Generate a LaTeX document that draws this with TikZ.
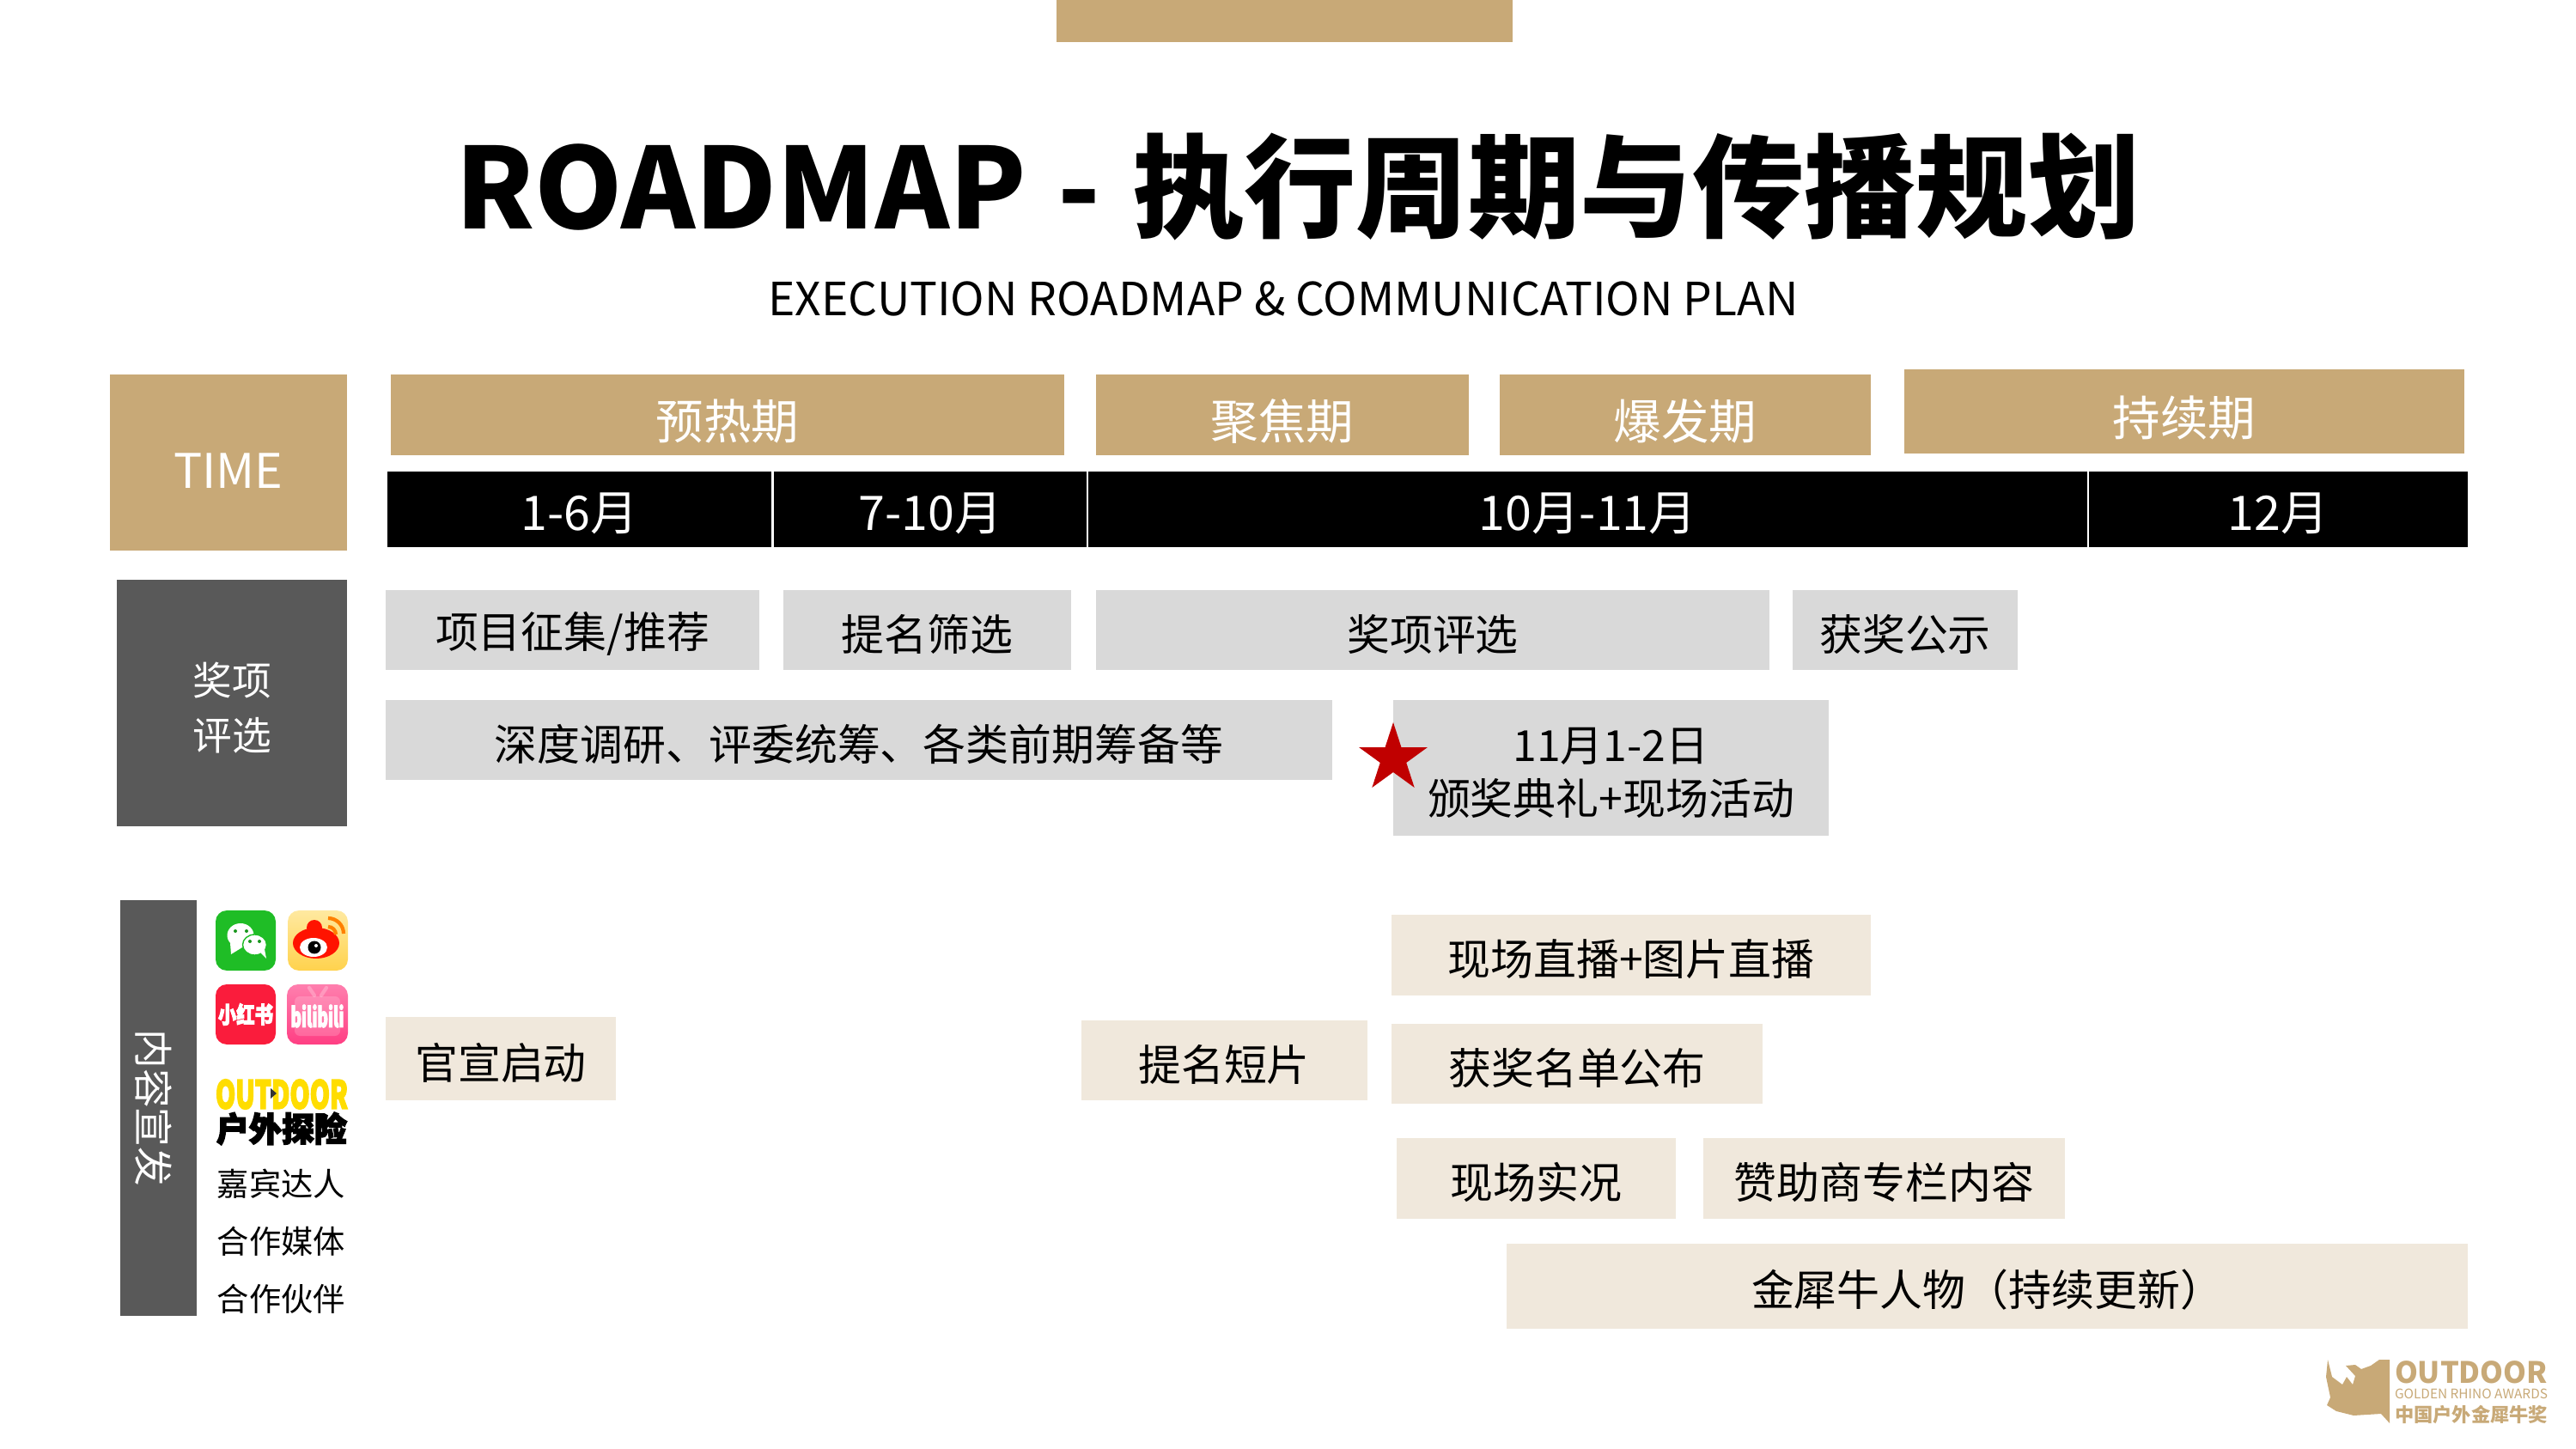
\documentclass[tikz,border=0pt]{standalone}
\usepackage{fontspec}
\setmainfont{Noto Sans CJK SC}
\newfontfamily\heavyfont[BoldFeatures={FakeBold=4}]{Noto Sans CJK SC}
\newcommand{\nudge}[1]{\raisebox{-1.6pt}[\height][\depth]{#1}}
\usetikzlibrary{shapes.geometric}
\definecolor{tan}{HTML}{C8A977}
\definecolor{slab}{HTML}{595959}
\definecolor{mist}{HTML}{D9D9D9}
\definecolor{sand}{HTML}{F0E8DC}
\definecolor{starred}{HTML}{C00000}
\definecolor{wechat}{HTML}{1FBD26}
\definecolor{redbook}{HTML}{FA1C3C}
\definecolor{weibotop}{HTML}{FFE9A0}
\definecolor{weibolow}{HTML}{FFD24D}
\definecolor{bilitop}{HTML}{FF7FAE}
\definecolor{bililow}{HTML}{FF3E83}
\definecolor{mag}{HTML}{FFDD00}
\tikzset{
  box/.style={inner sep=0pt,outer sep=0pt,align=center},
  drop/.style={execute at begin node={\rule{0pt}{#1}}},
  phase/.style={box,drop=17.4pt,fill=tan,text=white,font=\fontsize{15.8}{19}\selectfont},
  month/.style={box,drop=15.5pt,fill=black,text=white,minimum height=0.88cm,
    font=\fontsize{15.8}{19}\selectfont},
  side/.style={box,fill=slab,text=white,font=\fontsize{13}{18.2}\selectfont},
  award/.style={box,drop=14.6pt,fill=mist,minimum height=0.93cm,
    font=\fontsize{14.2}{17.6}\selectfont},
  promo/.style={box,drop=14.6pt,fill=sand,minimum height=0.94cm,
    font=\fontsize{14.2}{17}\selectfont},
  channel/.style={box,font=\fontsize{10.6}{13}\selectfont},
  logotext/.style={box,text=tan}
}
\begin{document}
\begin{tikzpicture}
  \useasboundingbox (0,0) rectangle (29.99,-16.87);

  % Title
  \fill[tan] (12.30,0) rectangle (17.61,-0.49);
  \node[box,font=\fontsize{37.1}{44}\bfseries\selectfont] (title) at (15.11,-2.17)
    {ROADMAP\hspace{0.07cm} - \hspace{0.07cm}执行周期与传播规划};
  \node[box,font=\fontsize{15.16}{19}\selectfont] (subtitle) at (14.94,-3.48)
    {EXECUTION ROADMAP \& COMMUNICATION PLAN};

  % Time header
  \node[phase,text depth=0.5pt,minimum width=2.76cm,minimum height=2.05cm] (time) at (2.66,-5.385) {TIME};
  \node[phase,minimum width=7.84cm,minimum height=0.94cm] (warmup) at (8.47,-4.83) {预热期};
  \node[phase,minimum width=4.34cm,minimum height=0.94cm] (focus) at (14.93,-4.83) {聚焦期};
  \node[phase,minimum width=4.32cm,minimum height=0.94cm] (burst) at (19.62,-4.83) {爆发期};
  \node[phase,minimum width=6.52cm,minimum height=0.98cm] (lasting) at (25.43,-4.79) {持续期};

  \node[month,minimum width=4.47cm] (janjun) at (6.745,-5.93) {1-6月};
  \node[month,minimum width=3.64cm] (julokt) at (10.83,-5.93) {7-10月};
  \node[month,minimum width=11.63cm] (oktnov) at (18.485,-5.93) {10月-11月};
  \node[month,minimum width=4.41cm] (dec) at (26.525,-5.93) {12月};

  % Award selection
  \node[side,minimum width=2.68cm,minimum height=2.87cm] (awards) at (2.70,-8.185)
    {\nudge{奖项}\\\nudge{评选}};
  \node[award,minimum width=4.35cm] (collect) at (6.665,-7.335) {项目征集/推荐};
  \node[award,minimum width=3.35cm] (screen) at (10.795,-7.335) {提名筛选};
  \node[award,minimum width=7.84cm] (judge) at (16.68,-7.335) {奖项评选};
  \node[award,minimum width=2.62cm] (notice) at (22.18,-7.335) {获奖公示};
  \node[award,minimum width=11.02cm] (prepare) at (10.00,-8.615) {深度调研、评委统筹、各类前期筹备等};
  \node[award,minimum width=5.07cm,minimum height=1.58cm] (ceremony) at (18.755,-8.94)
    {\nudge{11月1-2日}\\\nudge{颁奖典礼+现场活动}};
  \node[star,star points=5,star point ratio=2.618,fill=starred,inner sep=0pt,
    minimum size=0.84cm] (mark) at (16.22,-8.83) {};

  % Content channels
  \node[side,rotate=-90,minimum width=4.84cm,minimum height=0.89cm] (content) at (1.845,-12.90)
    {\nudge{内容宣发}};

  \fill[rounded corners=0.13cm,wechat] (2.51,-10.60) rectangle (3.21,-11.30);
  \fill[white] (2.80,-10.89) ellipse (0.155 and 0.14);
  \fill[white] (2.68,-10.98) -- (2.69,-11.11) -- (2.82,-11.03) -- cycle;
  \filldraw[draw=wechat,fill=white,line width=0.4pt]
    (2.965,-11.00) ellipse (0.14 and 0.12);
  \fill[white] (3.02,-11.08) -- (3.10,-11.16) -- (3.08,-11.05) -- cycle;
  \foreach \x/\y in {2.74/-10.84,2.87/-10.84,2.91/-10.96,3.02/-10.96}{
    \fill[wechat!80!black] (\x,\y) circle (0.02);
  }

  \shade[rounded corners=0.13cm,top color=weibotop,bottom color=weibolow]
    (3.35,-10.60) rectangle (4.05,-11.30);
  \fill[red!85!orange] (3.68,-10.98) ellipse (0.27 and 0.18);
  \fill[red!85!orange] (3.66,-10.80) circle (0.09);
  \fill[white] (3.65,-11.03) ellipse (0.16 and 0.11);
  \fill[black] (3.66,-11.03) circle (0.075);
  \fill[white] (3.68,-11.01) circle (0.02);
  \draw[orange,line width=1.2pt] (3.82,-10.69) arc[start angle=90,end angle=0,radius=0.18];
  \draw[orange,line width=1.2pt] (3.82,-10.79) arc[start angle=90,end angle=0,radius=0.09];

  \fill[rounded corners=0.13cm,redbook] (2.51,-11.46) rectangle (3.21,-12.16);
  \node[box,text=white] (xhs) at (2.86,-11.81)
    {\resizebox{0.64cm}{0.23cm}{\heavyfont\bfseries 小红书}};

  \shade[rounded corners=0.13cm,top color=bilitop,bottom color=bililow]
    (3.34,-11.46) rectangle (4.05,-12.16);
  \fill[rounded corners=0.06cm,white,opacity=0.18] (3.43,-11.60) rectangle (3.96,-12.06);
  \draw[white,opacity=0.25,line width=1.2pt,line cap=round]
    (3.60,-11.50) -- (3.66,-11.59) (3.80,-11.50) -- (3.74,-11.59);
  \node[box,text=white] (bili) at (3.695,-11.83)
    {\resizebox{0.62cm}{0.26cm}{\heavyfont\bfseries bilibili}};

  \node[box,text=mag] (outdoor) at (3.28,-12.74)
    {\resizebox{1.54cm}{0.34cm}{\heavyfont\bfseries OUTDOOR}};
  \fill[black!80] (3.15,-12.67) -- (3.22,-12.73) -- (3.15,-12.79) -- cycle;
  \node[box] (adventure) at (3.28,-13.14)
    {\resizebox{1.52cm}{0.34cm}{\heavyfont\bfseries 户外探险}};

  \node[channel] (guests) at (3.275,-13.78) {嘉宾达人};
  \node[channel] (media) at (3.275,-14.45) {合作媒体};
  \node[channel] (partners) at (3.275,-15.12) {合作伙伴};

  % Content boxes
  \node[promo,minimum width=2.68cm,minimum height=0.97cm] (launch) at (5.83,-12.325) {官宣启动};
  \node[promo,minimum width=3.33cm,minimum height=0.93cm] (short) at (14.25,-12.345) {提名短片};
  \node[promo,minimum width=5.58cm] (live) at (18.99,-11.12) {现场直播+图片直播};
  \node[promo,minimum width=4.32cm,minimum height=0.93cm] (winners) at (18.36,-12.385) {获奖名单公布};
  \node[promo,minimum width=3.25cm] (onsite) at (17.885,-13.72) {现场实况};
  \node[promo,minimum width=4.21cm] (sponsor) at (21.935,-13.72) {赞助商专栏内容};
  \node[promo,minimum width=11.19cm,minimum height=0.99cm] (people) at (23.135,-14.975)
    {金犀牛人物（持续更新）};

  % Awards logo
  \fill[tan] (27.10,-15.83) -- (27.15,-16.03) -- (27.27,-16.12) -- (27.32,-16.03)
    -- (27.39,-16.12) -- (27.42,-16.02) -- (27.31,-15.90) -- (27.42,-15.89)
    -- (27.49,-15.94) -- (27.60,-15.90) -- (27.70,-15.83) -- (27.82,-15.83)
    -- (27.82,-16.57) -- (27.72,-16.46) -- (27.40,-16.48) -- (27.20,-16.43)
    -- (27.09,-16.36) -- (27.13,-16.27) -- (27.08,-16.03) -- cycle;
  \node[logotext] (logomain) at (28.77,-15.98)
    {\resizebox{1.78cm}{!}{\bfseries OUTDOOR}};
  \node[logotext] (logosub) at (28.77,-16.23)
    {\resizebox{1.78cm}{!}{GOLDEN RHINO AWARDS}};
  \node[logotext] (logocn) at (28.77,-16.47)
    {\resizebox{1.78cm}{!}{\bfseries 中国户外金犀牛奖}};
\end{tikzpicture}
\end{document}
